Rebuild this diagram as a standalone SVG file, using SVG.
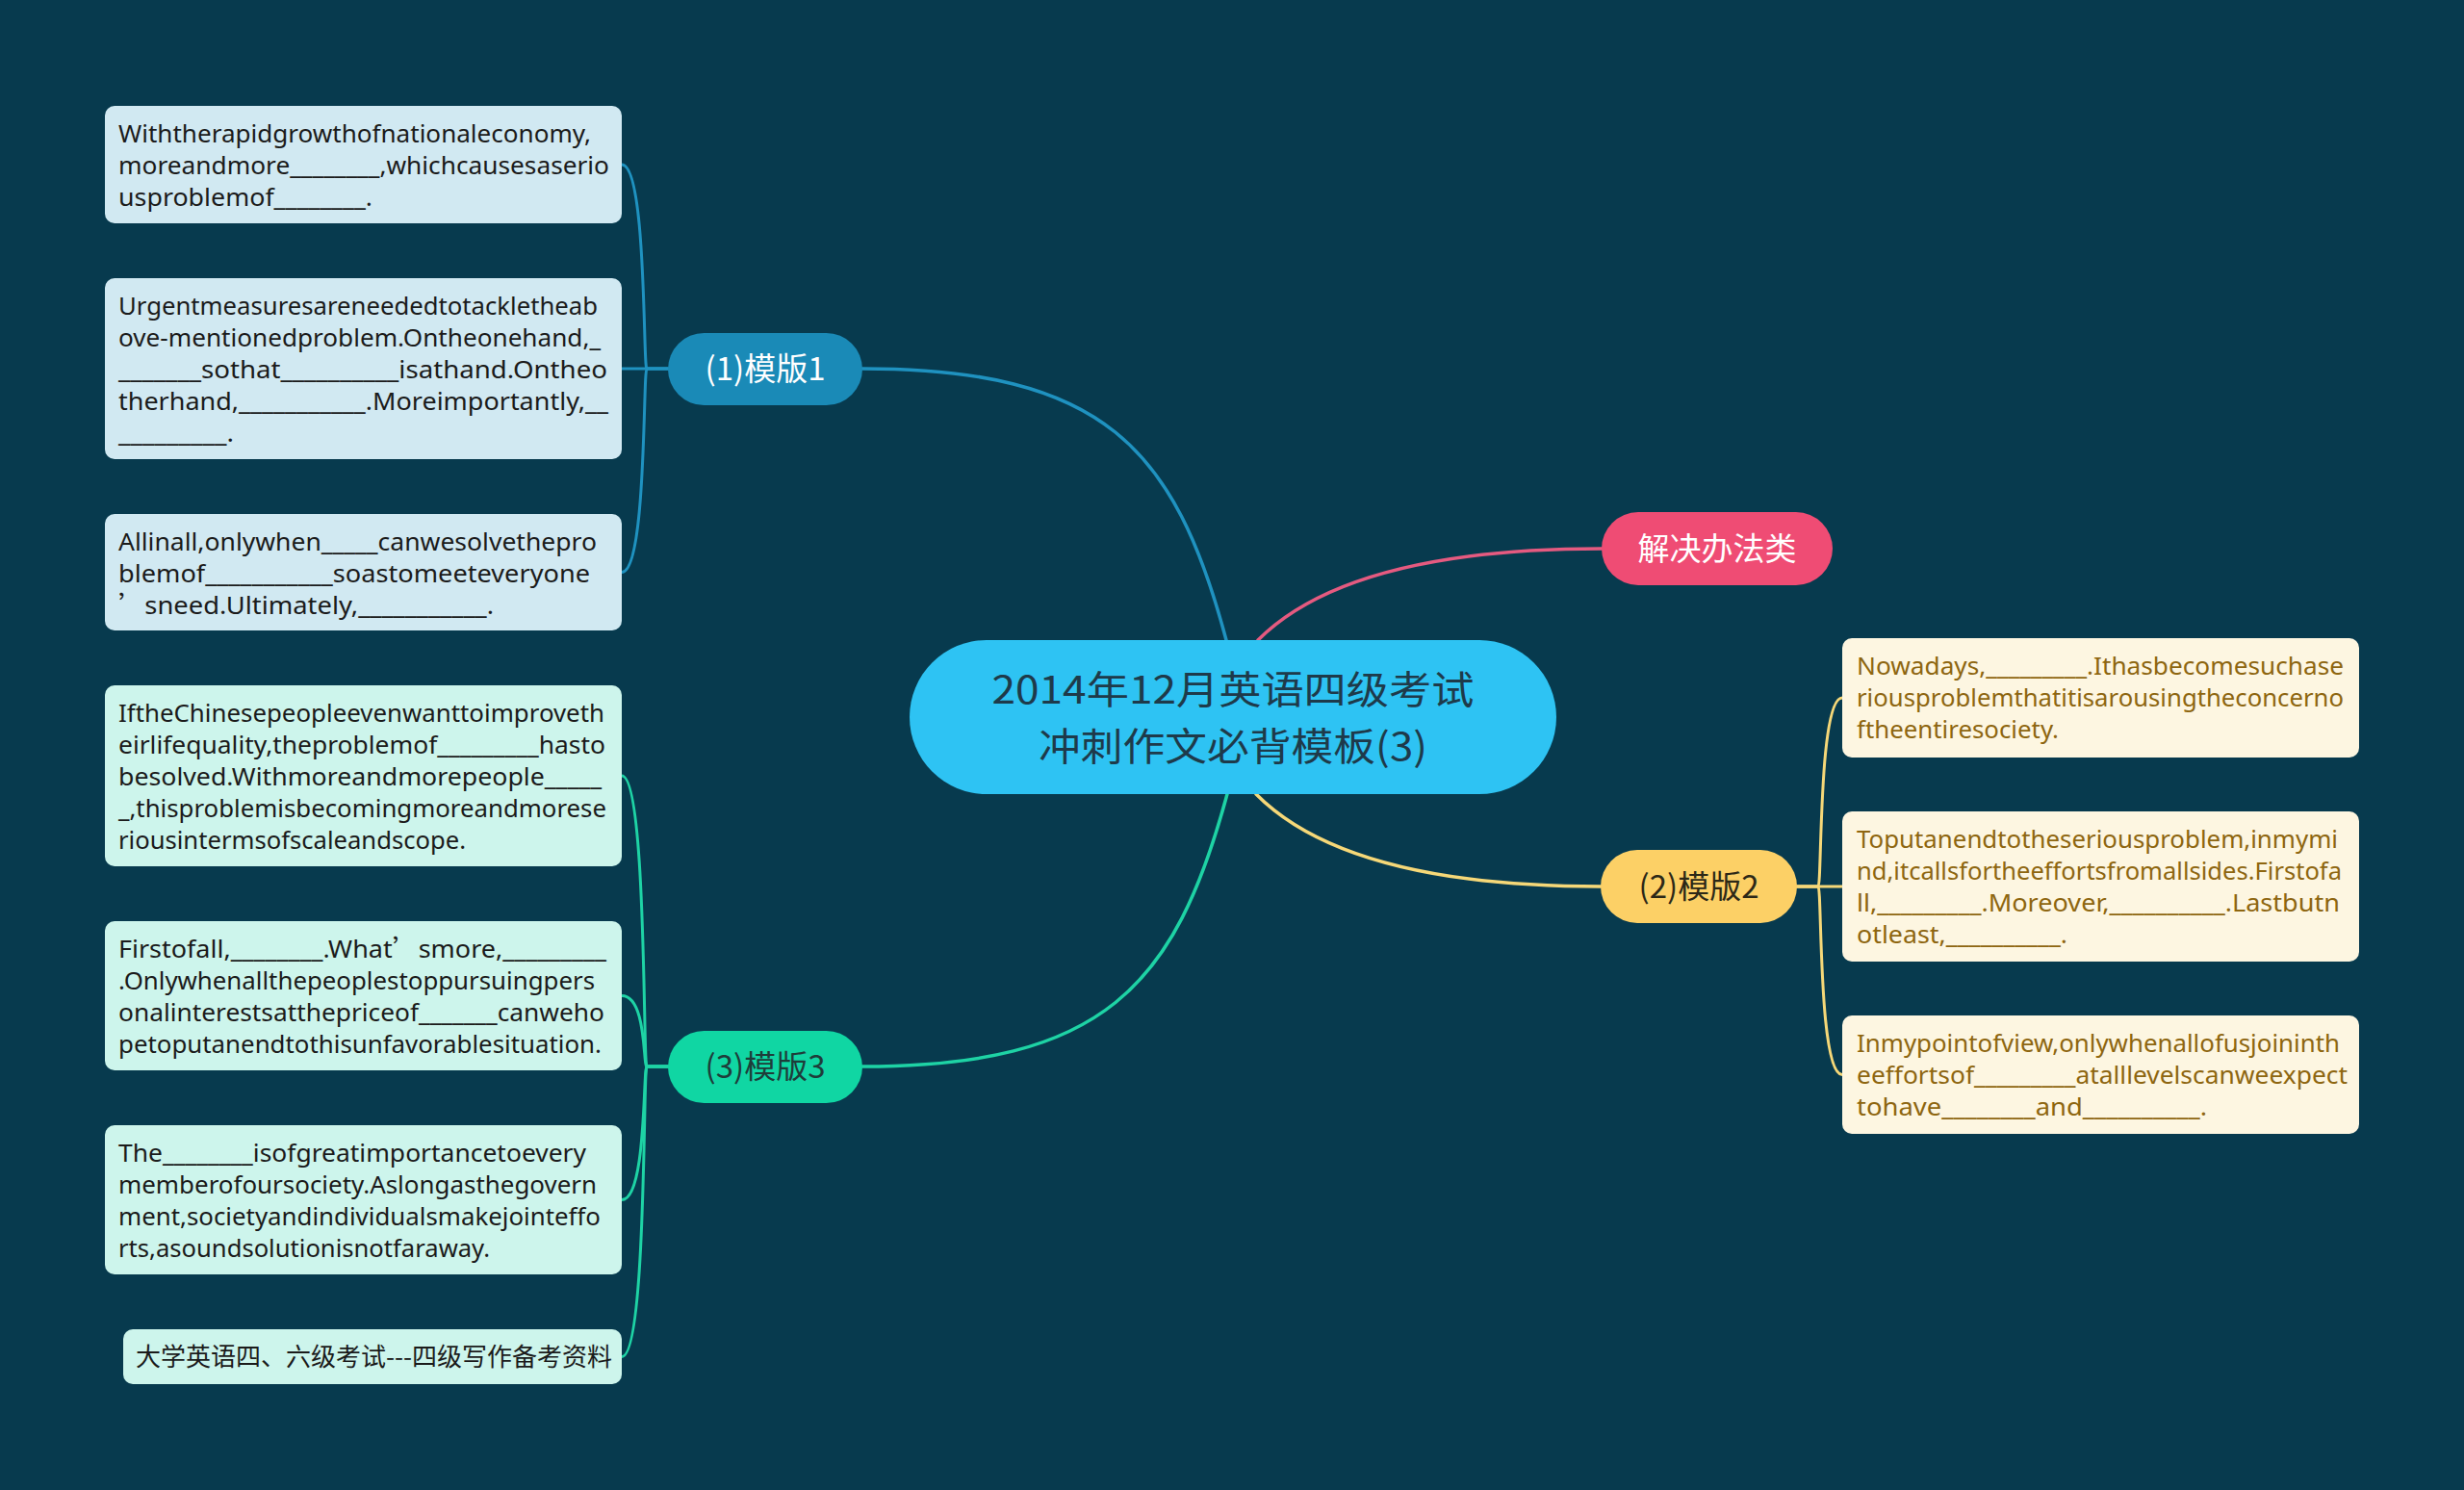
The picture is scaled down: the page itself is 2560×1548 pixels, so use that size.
<svg xmlns="http://www.w3.org/2000/svg" width="2560" height="1548" viewBox="0 0 2560 1548">
<style>
.t{font-family:"Noto Sans","Noto Sans CJK SC",sans-serif;font-size:26px;fill:#1b1b1b}
.tr{font-family:"Noto Sans","Noto Sans CJK SC",sans-serif;font-size:26px;fill:#8e6610}
.cj{font-family:"Noto Sans CJK SC","Noto Sans",sans-serif}
.lbl{font-family:"Noto Sans CJK SC","Noto Sans",sans-serif;font-size:33px;text-anchor:middle}
.b1{fill:#d1e9f2}
.b3{fill:#cdf5ec}
.b2{fill:#fdf6e1}
.c{fill:none;stroke-width:3.5;stroke-linecap:round}
.cb{fill:none;stroke-width:3;stroke-linecap:round}
</style>
<rect width="2560" height="1548" fill="#073a4e"/>
<g id="connectors">
<path class="c" stroke="#1f92c0" d="M1274 665 C1220.6 465 1146 383 896 383"/>
<path class="c" stroke="#e55a80" d="M1307 665 Q1402 570 1664 570"/>
<path class="c" stroke="#1ed3a5" d="M1275 825 C1221 1025 1146 1108 896 1108"/>
<path class="c" stroke="#f6d878" d="M1305 825 Q1400 921 1663 921"/>
<g stroke="#1f92c0">
<path class="cb" d="M694 383 L672 383 C668 383 672 171 646 171"/>
<path class="cb" d="M694 383 L646 383"/>
<path class="cb" d="M694 383 L672 383 C668 383 672 594.5 646 594.5"/>
</g>
<g stroke="#1ed3a5">
<path class="cb" d="M694 1108 L672 1108 C668 1108 672 806 646 806"/>
<path class="cb" d="M694 1108 L672 1108 C668 1108 672 1034.5 646 1034.5"/>
<path class="cb" d="M694 1108 L672 1108 C668 1108 672 1246.5 646 1246.5"/>
<path class="cb" d="M694 1108 L672 1108 C668 1108 672 1409.5 646 1409.5"/>
</g>
<g stroke="#f6d878">
<path class="cb" d="M1867 921 L1889 921 C1893 921 1889 725 1914 725"/>
<path class="cb" d="M1867 921 L1914 921"/>
<path class="cb" d="M1867 921 L1889 921 C1893 921 1889 1116.5 1914 1116.5"/>
</g>
</g>
<g id="root">
<rect x="945" y="665" width="672" height="160" rx="80" fill="#2ec3f3"/>
<text class="lbl" fill="#1e3a4a" x="1281" y="731" textLength="501" lengthAdjust="spacingAndGlyphs" style="font-size:40px">2014年12月英语四级考试</text>
<text class="lbl" fill="#1e3a4a" x="1281" y="790" textLength="404" lengthAdjust="spacingAndGlyphs" style="font-size:40px">冲刺作文必背模板(3)</text>
</g>
<g id="n1">
<rect x="694" y="346" width="202" height="75" rx="37.5" fill="#1a8ab7"/>
<text class="lbl" x="795" y="395" fill="#ffffff">(1)模版1</text>
</g>
<g id="n2">
<rect x="1663" y="883" width="204" height="76" rx="38" fill="#fcd066"/>
<text class="lbl" x="1765" y="933" fill="#2c2817">(2)模版2</text>
</g>
<g id="n3">
<rect x="694" y="1071" width="202" height="75" rx="37.5" fill="#10d6a3"/>
<text class="lbl" x="795" y="1120" fill="#1e3d3a">(3)模版3</text>
</g>
<g id="n4">
<rect x="1664" y="532" width="240" height="76" rx="38" fill="#ef4c74"/>
<text class="lbl" x="1784" y="582" fill="#ffffff">解决办法类</text>
</g>
<g id="b1">
<rect class="b1" x="109" y="110" width="537" height="122" rx="10"/>
<text class="t" x="123" y="148" textLength="491" lengthAdjust="spacingAndGlyphs">Withtherapidgrowthofnationaleconomy,</text>
<text class="t" x="123" y="181" textLength="510" lengthAdjust="spacingAndGlyphs">moreandmore________,whichcausesaserio</text>
<text class="t" x="123" y="214" textLength="264" lengthAdjust="spacingAndGlyphs">usproblemof________.</text>
</g>
<g id="b2">
<rect class="b1" x="109" y="289" width="537" height="188" rx="10"/>
<text class="t" x="123" y="327" textLength="498" lengthAdjust="spacingAndGlyphs">Urgentmeasuresareneededtotackletheab</text>
<text class="t" x="123" y="360" textLength="501" lengthAdjust="spacingAndGlyphs">ove-mentionedproblem.Ontheonehand,_</text>
<text class="t" x="123" y="393" textLength="508" lengthAdjust="spacingAndGlyphs">_______sothat__________isathand.Ontheo</text>
<text class="t" x="123" y="426" textLength="509" lengthAdjust="spacingAndGlyphs">therhand,___________.Moreimportantly,__</text>
<text class="t" x="123" y="459" textLength="120" lengthAdjust="spacingAndGlyphs">_________.</text>
</g>
<g id="b3">
<rect class="b1" x="109" y="534" width="537" height="121" rx="10"/>
<text class="t" x="123" y="572" textLength="497" lengthAdjust="spacingAndGlyphs">Allinall,onlywhen_____canwesolvethepro</text>
<text class="t" x="123" y="605" textLength="490" lengthAdjust="spacingAndGlyphs">blemof___________soastomeeteveryone</text>
<text class="t" x="123" y="638" textLength="390" lengthAdjust="spacingAndGlyphs"><tspan class="cj">’</tspan>sneed.Ultimately,___________.</text>
</g>
<g id="b4">
<rect class="b3" x="109" y="712" width="537" height="188" rx="10"/>
<text class="t" x="123" y="750" textLength="505" lengthAdjust="spacingAndGlyphs">IftheChinesepeopleevenwanttoimproveth</text>
<text class="t" x="123" y="783" textLength="506" lengthAdjust="spacingAndGlyphs">eirlifequality,theproblemof_________hasto</text>
<text class="t" x="123" y="816" textLength="502" lengthAdjust="spacingAndGlyphs">besolved.Withmoreandmorepeople_____</text>
<text class="t" x="123" y="849" textLength="507" lengthAdjust="spacingAndGlyphs">_,thisproblemisbecomingmoreandmorese</text>
<text class="t" x="123" y="882" textLength="361" lengthAdjust="spacingAndGlyphs">riousintermsofscaleandscope.</text>
</g>
<g id="b5">
<rect class="b3" x="109" y="957" width="537" height="155" rx="10"/>
<text class="t" x="123" y="995" textLength="507" lengthAdjust="spacingAndGlyphs">Firstofall,________.What<tspan class="cj">’</tspan>smore,_________</text>
<text class="t" x="123" y="1028" textLength="495" lengthAdjust="spacingAndGlyphs">.Onlywhenallthepeoplestoppursuingpers</text>
<text class="t" x="123" y="1061" textLength="505" lengthAdjust="spacingAndGlyphs">onalinterestsatthepriceof_______canweho</text>
<text class="t" x="123" y="1094" textLength="502" lengthAdjust="spacingAndGlyphs">petoputanendtothisunfavorablesituation.</text>
</g>
<g id="b6">
<rect class="b3" x="109" y="1169" width="537" height="155" rx="10"/>
<text class="t" x="123" y="1207" textLength="486" lengthAdjust="spacingAndGlyphs">The________isofgreatimportancetoevery</text>
<text class="t" x="123" y="1240" textLength="497" lengthAdjust="spacingAndGlyphs">memberofoursociety.Aslongasthegovern</text>
<text class="t" x="123" y="1273" textLength="501" lengthAdjust="spacingAndGlyphs">ment,societyandindividualsmakejointeffo</text>
<text class="t" x="123" y="1306" textLength="386" lengthAdjust="spacingAndGlyphs">rts,asoundsolutionisnotfaraway.</text>
</g>
<g id="b7">
<rect class="b3" x="128" y="1381" width="518" height="57" rx="10"/>
<text class="t cj" x="141" y="1419" textLength="495" lengthAdjust="spacingAndGlyphs">大学英语四、六级考试---四级写作备考资料</text>
</g>
<g id="r1">
<rect class="b2" x="1914" y="663" width="537" height="124" rx="10"/>
<text class="tr" x="1929" y="701" textLength="506" lengthAdjust="spacingAndGlyphs">Nowadays,_________.Ithasbecomesuchase</text>
<text class="tr" x="1929" y="734" textLength="506" lengthAdjust="spacingAndGlyphs">riousproblemthatitisarousingtheconcerno</text>
<text class="tr" x="1929" y="767" textLength="210" lengthAdjust="spacingAndGlyphs">ftheentiresociety.</text>
</g>
<g id="r2">
<rect class="b2" x="1914" y="843" width="537" height="156" rx="10"/>
<text class="tr" x="1929" y="881" textLength="500" lengthAdjust="spacingAndGlyphs">Toputanendtotheseriousproblem,inmymi</text>
<text class="tr" x="1929" y="914" textLength="504" lengthAdjust="spacingAndGlyphs">nd,itcallsfortheeffortsfromallsides.Firstofa</text>
<text class="tr" x="1929" y="947" textLength="502" lengthAdjust="spacingAndGlyphs">ll,_________.Moreover,__________.Lastbutn</text>
<text class="tr" x="1929" y="980" textLength="219" lengthAdjust="spacingAndGlyphs">otleast,__________.</text>
</g>
<g id="r3">
<rect class="b2" x="1914" y="1055" width="537" height="123" rx="10"/>
<text class="tr" x="1929" y="1093" textLength="502" lengthAdjust="spacingAndGlyphs">Inmypointofview,onlywhenallofusjoininth</text>
<text class="tr" x="1929" y="1126" textLength="510" lengthAdjust="spacingAndGlyphs">eeffortsof_________atalllevelscanweexpect</text>
<text class="tr" x="1929" y="1159" textLength="364" lengthAdjust="spacingAndGlyphs">tohave________and__________.</text>
</g>
</svg>
